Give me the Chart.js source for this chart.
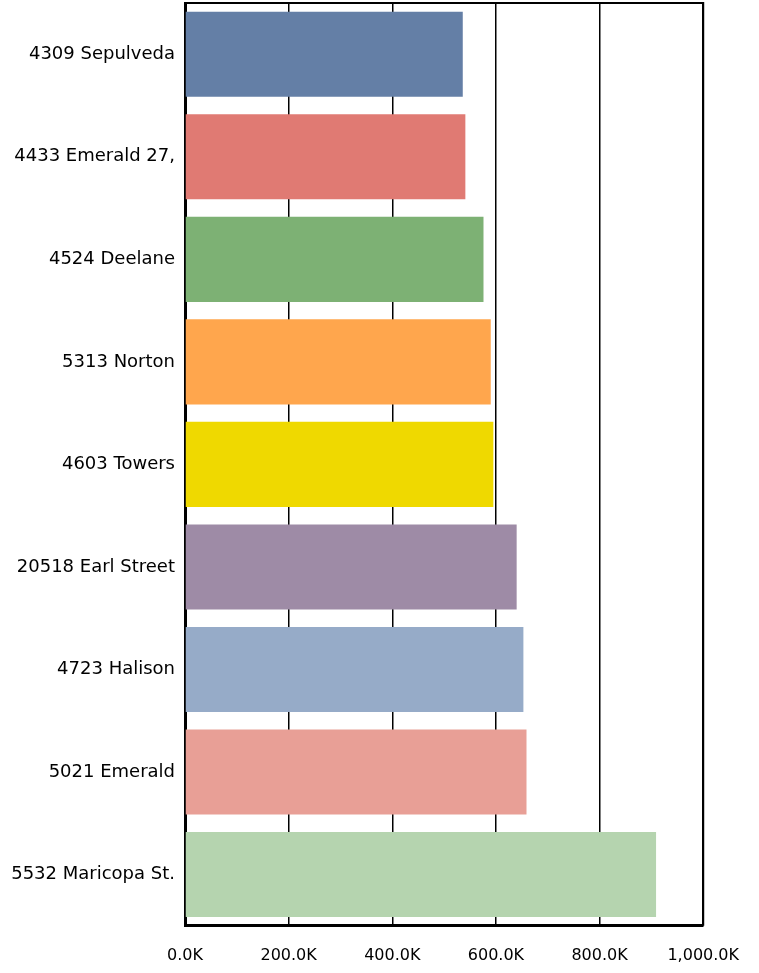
<!DOCTYPE html>
<html>
<head>
<meta charset="utf-8">
<script src="https://cdn.jsdelivr.net/npm/chart.js@4"></script>
<style>
  body { margin: 0; background: #fff; }
</style>
</head>
<body>
<canvas id="chart" width="759" height="973"></canvas>
<script>
const addresses = ['4309 Sepulveda', '4433 Emerald 27,', '4524 Deelane', '5313 Norton', '4603 Towers',
	'20518 Earl Street', '4723 Halison', '5021 Emerald', '5532 Maricopa St.']
const amounts = [536000, 541000, 576000, 590000, 595000, 640000, 653000, 659000, 909000]
const barColors = ['#647fa6', '#e07a73', '#7db174', '#ffa64d', '#efd900',
	'#9e8ba6', '#96abc8', '#e89f96', '#b5d4af']
const xTicks = [0, 200000, 400000, 600000, 800000, 1000000]

function formatK(v) {
	return (v / 1000).toLocaleString('en-US', { minimumFractionDigits: 1, maximumFractionDigits: 1 }) + 'K'
}

// рамка вокруг области графика (верх и право)
const frame = {
	id: 'frame',
	afterDraw(chart) {
		const { ctx, chartArea: a } = chart
		ctx.save()
		ctx.strokeStyle = '#000'
		ctx.lineWidth = 2
		ctx.beginPath()
		ctx.moveTo(a.left, a.top)
		ctx.lineTo(a.right, a.top)
		ctx.lineTo(a.right, a.bottom)
		ctx.stroke()
		ctx.restore()
	}
}

const font = 'DejaVu Sans, Verdana, sans-serif'

new Chart(document.getElementById('chart'), {
	type: 'bar',
	data: {
		labels: addresses,
		datasets: [{
			data: amounts,
			backgroundColor: barColors,
			borderWidth: 0,
			categoryPercentage: 1,
			barPercentage: 0.83
		}]
	},
	options: {
		indexAxis: 'y',
		responsive: false,
		animation: false,
		layout: { padding: { top: 3, right: 55, bottom: -12, left: 0 } },
		plugins: {
			legend: { display: false },
			tooltip: { enabled: false }
		},
		scales: {
			x: {
				min: 0,
				max: 1000000,
				afterBuildTicks: scale => { scale.ticks = xTicks.map(v => ({ value: v })) },
				grid: { color: '#000', lineWidth: 1.5, drawTicks: false },
				border: { color: '#000', width: 3 },
				ticks: {
					callback: v => formatK(v),
					color: '#000',
					padding: 20,
					maxRotation: 0,
					font: { family: font, size: 16 }
				}
			},
			y: {
				afterFit: scale => {
					scale.width = 185
					scale.paddingTop = 0
					scale.paddingBottom = 0
				},
				grid: { display: false, drawTicks: false },
				border: { color: '#000', width: 3 },
				ticks: {
					color: '#000',
					padding: 10,
					font: { family: font, size: 18 }
				}
			}
		}
	},
	plugins: [frame]
})
</script>
</body>
</html>
